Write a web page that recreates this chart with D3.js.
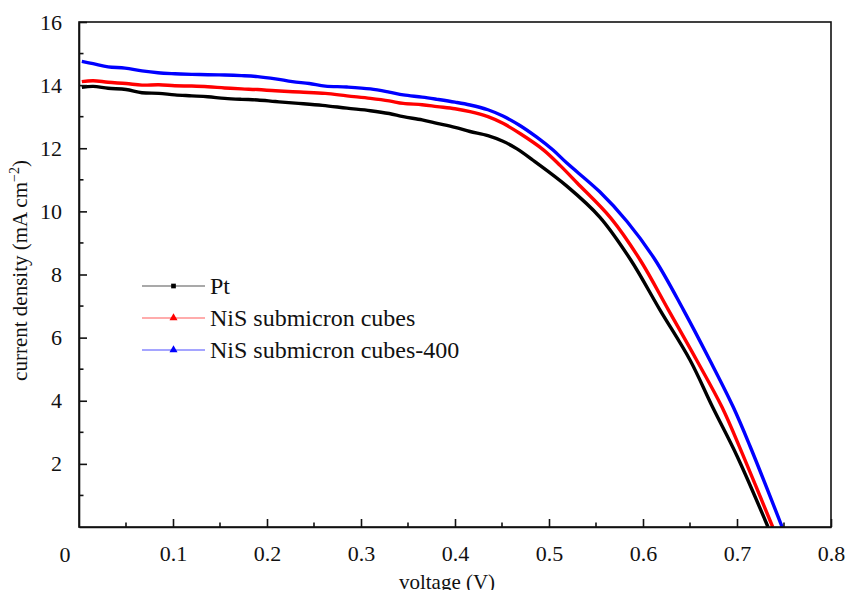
<!DOCTYPE html>
<html>
<head>
<meta charset="utf-8">
<script src="https://cdn.jsdelivr.net/npm/d3@7"></script>
<style>
  body { margin: 0; background: #fff; }
  svg text { font-family: "Liberation Serif", "Times New Roman", "DejaVu Serif", serif; fill: #111; }
</style>
</head>
<body>
<div id="vis"></div>
<script>
// J-V curves (voltage in V, current density in mA cm-2)
let ptV = [0.003, 0.015, 0.031, 0.050, 0.067, 0.085, 0.102, 0.120, 0.137, 0.155, 0.173, 0.190, 0.209, 0.230, 0.259, 0.285, 0.310, 0.330, 0.345, 0.365, 0.381, 0.400, 0.416, 0.435, 0.451, 0.466, 0.483, 0.519, 0.554, 0.587, 0.618, 0.650, 0.674, 0.700, 0.733]
let ptJ = [13.93, 13.96, 13.90, 13.86, 13.76, 13.74, 13.69, 13.66, 13.63, 13.58, 13.55, 13.53, 13.48, 13.43, 13.36, 13.27, 13.19, 13.10, 13.00, 12.90, 12.79, 12.66, 12.53, 12.40, 12.22, 11.98, 11.62, 10.80, 9.82, 8.46, 6.88, 5.29, 3.80, 2.25, 0.00]

let nisV = [0.003, 0.015, 0.031, 0.050, 0.067, 0.085, 0.102, 0.120, 0.137, 0.155, 0.173, 0.190, 0.209, 0.235, 0.262, 0.285, 0.310, 0.330, 0.345, 0.365, 0.381, 0.400, 0.416, 0.435, 0.451, 0.470, 0.494, 0.512, 0.530, 0.566, 0.597, 0.627, 0.657, 0.684, 0.706, 0.738]
let nisJ = [14.11, 14.14, 14.09, 14.05, 14.00, 14.01, 13.98, 13.97, 13.95, 13.91, 13.88, 13.86, 13.82, 13.78, 13.74, 13.66, 13.58, 13.50, 13.42, 13.38, 13.32, 13.25, 13.16, 13.00, 12.79, 12.45, 11.95, 11.45, 10.90, 9.78, 8.46, 6.88, 5.29, 3.80, 2.30, 0.00]

let nis400V = [0.003, 0.015, 0.031, 0.049, 0.067, 0.084, 0.102, 0.120, 0.137, 0.155, 0.173, 0.190, 0.209, 0.227, 0.245, 0.262, 0.285, 0.310, 0.330, 0.345, 0.365, 0.381, 0.400, 0.416, 0.435, 0.451, 0.469, 0.487, 0.504, 0.519, 0.554, 0.583, 0.613, 0.643, 0.671, 0.696, 0.714, 0.748]
let nis400J = [14.75, 14.68, 14.58, 14.54, 14.45, 14.39, 14.36, 14.34, 14.33, 14.32, 14.30, 14.27, 14.20, 14.11, 14.05, 13.97, 13.94, 13.88, 13.78, 13.69, 13.62, 13.55, 13.46, 13.37, 13.22, 13.02, 12.72, 12.35, 11.95, 11.53, 10.62, 9.68, 8.46, 6.88, 5.29, 3.80, 2.55, 0.00]

let seriesNames = ['Pt', 'NiS submicron cubes', 'NiS submicron cubes-400']
let seriesColors = ['#000000', '#ff0000', '#0000ff']
let legendLineColors = ['#555555', '#ff5a5a', '#4d4dff']
let seriesMarkers = [d3.symbolSquare, d3.symbolTriangle, d3.symbolTriangle]

let xTicks = [0.1, 0.2, 0.3, 0.4, 0.5, 0.6, 0.7, 0.8]
let yTicks = [2, 4, 6, 8, 10, 12, 14, 16]

let series = [
  { name: seriesNames[0], v: ptV, j: ptJ },
  { name: seriesNames[1], v: nisV, j: nisJ },
  { name: seriesNames[2], v: nis400V, j: nis400J }
]

let serif = '"Liberation Serif", "Times New Roman", serif'

let margin = { top: 22, left: 79, right: 16, bottom: 63 },
  width = 847 - margin.left - margin.right,
  height = 590 - margin.top - margin.bottom

let svg = d3.select('#vis')
  .append('svg')
  .attr('width', 847)
  .attr('height', 590)
  .append('g')
  .attr('transform', 'translate(' + margin.left + ',' + margin.top + ')')

let xScale = d3.scaleLinear().domain([0, 0.8]).range([0, width])
let yScale = d3.scaleLinear().domain([0, 16]).range([height, 0])

// curves
let line = d3.line()
  .x(function (d) { return xScale(d[0]) })
  .y(function (d) { return yScale(d[1]) })
  .curve(d3.curveCatmullRom.alpha(0.5))

series.forEach(function (s, i) {
  svg.append('path')
    .datum(d3.zip(s.v, s.j))
    .attr('fill', 'none')
    .attr('stroke', seriesColors[i])
    .attr('stroke-width', 3.4)
    .attr('stroke-linejoin', 'round')
    .attr('d', line)
})

// frame
svg.append('rect')
  .attr('x', 0).attr('y', 0)
  .attr('width', width).attr('height', height)
  .attr('fill', 'none')
  .attr('stroke', '#111')
  .attr('stroke-width', 1.6)

// x axis (ticks inside)
let xAxis = d3.axisBottom(xScale)
  .tickValues(xTicks)
  .tickSizeInner(-8)
  .tickSizeOuter(0)
  .tickPadding(18)
  .tickFormat(d3.format('.1f'))
let gx = svg.append('g')
  .attr('transform', 'translate(0,' + height + ')')
  .call(xAxis)
  .attr('font-family', serif)
gx.select('.domain').attr('stroke', '#111').attr('stroke-width', 1.6)
gx.selectAll('.tick line').attr('stroke', '#111').attr('stroke-width', 1.6)
gx.selectAll('.tick text').style('font-size', '22px').style('font-family', serif).attr('fill', '#111')
gx.selectAll('.minor')
  .data(d3.range(0.05, 0.8, 0.1))
  .enter().append('line')
  .attr('x1', function (d) { return xScale(d) })
  .attr('x2', function (d) { return xScale(d) })
  .attr('y1', 0).attr('y2', -4.5)
  .attr('stroke', '#111').attr('stroke-width', 1.6)

// y axis (ticks inside)
let yAxis = d3.axisLeft(yScale)
  .tickValues(yTicks)
  .tickSizeInner(-8)
  .tickSizeOuter(0)
  .tickPadding(17)
let gy = svg.append('g').call(yAxis).attr('font-family', serif)
gy.select('.domain').attr('stroke', '#111').attr('stroke-width', 1.6)
gy.selectAll('.tick line').attr('stroke', '#111').attr('stroke-width', 1.6)
gy.selectAll('.tick text').style('font-size', '22px').style('font-family', serif).attr('fill', '#111')
gy.selectAll('.minor')
  .data(d3.range(1, 16, 2))
  .enter().append('line')
  .attr('y1', function (d) { return yScale(d) })
  .attr('y2', function (d) { return yScale(d) })
  .attr('x1', 0).attr('x2', 4.5)
  .attr('stroke', '#111').attr('stroke-width', 1.6)

// shared origin label
svg.append('text')
  .attr('x', -14)
  .attr('y', height + 35)
  .style('font-size', '22px')
  .style('font-family', serif)
  .style('text-anchor', 'middle')
  .text('0')

// axis labels
svg.append('text')
  .attr('x', width / 2 - 8)
  .attr('y', height + 62)
  .style('font-size', '21px')
  .style('font-family', serif)
  .style('text-anchor', 'middle')
  .text('voltage (V)')

let ylab = svg.append('text')
  .attr('transform', 'translate(' + (-52) + ',' + (yScale(8) - 4) + ') rotate(-90)')
  .style('font-size', '21px')
  .style('font-family', serif)
  .style('text-anchor', 'middle')
ylab.append('tspan').text('current density (mA cm')
ylab.append('tspan').attr('dy', -8).style('font-size', '14px').text('\u22122')
ylab.append('tspan').attr('dy', 8).text(')')

// legend
let legend = svg.append('g').attr('transform', 'translate(63,264)')
series.forEach(function (s, i) {
  let row = legend.append('g').attr('transform', 'translate(0,' + (i * 32) + ')')
  row.append('line')
    .attr('x1', 0).attr('x2', 63)
    .attr('y1', 0).attr('y2', 0)
    .attr('stroke', legendLineColors[i])
    .attr('stroke-width', 1.2)
  row.append('path')
    .attr('transform', 'translate(31.5,0)')
    .attr('d', d3.symbol().type(seriesMarkers[i]).size(i === 0 ? 22 : 28)())
    .attr('fill', seriesColors[i])
  row.append('text')
    .attr('x', 68)
    .attr('y', 8)
    .style('font-size', '24px')
    .style('font-family', serif)
    .text(s.name)
})
</script>
</body>
</html>
